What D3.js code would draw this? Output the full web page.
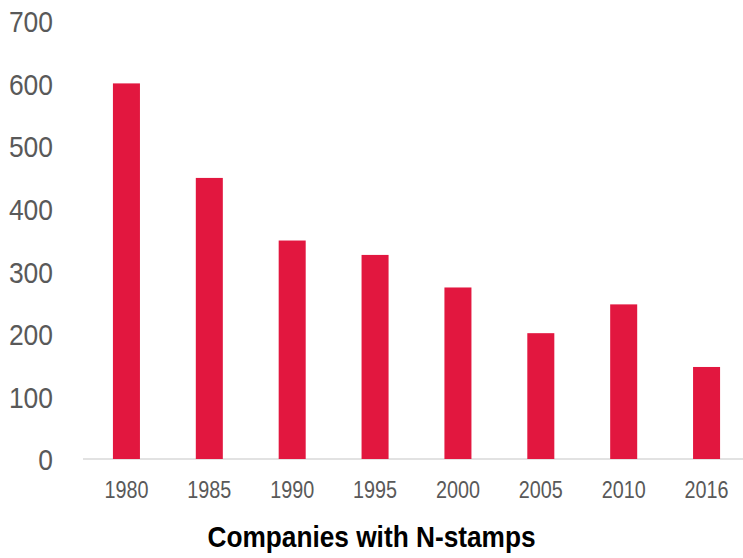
<!DOCTYPE html>
<html>
<head>
<meta charset="utf-8">
<script src="https://cdn.jsdelivr.net/npm/d3@7"></script>
<style>
  html, body { margin: 0; padding: 0; background: #fff; }
  svg { display: block; }
</style>
</head>
<body>
<svg id="chart" width="743" height="558"></svg>
<script>
const categories = ["1980", "1985", "1990", "1995", "2000", "2005", "2010", "2016"];
const values = [600, 449, 349, 326, 274, 201, 247, 147];
const yTicks = [0, 100, 200, 300, 400, 500, 600, 700];
const title = "Companies with N-stamps";

const svg = d3.select("#chart");
const x = d3.scaleBand().domain(categories).range([85, 748]).paddingInner(0.674).paddingOuter(0.337);
const y = d3.scaleLinear().domain([0, 700]).range([459, 20.8]);

// baseline
svg.append("line")
  .attr("x1", 83).attr("x2", 743)
  .attr("y1", y(0)).attr("y2", y(0))
  .attr("stroke", "#d9d9d9").attr("stroke-width", 1.5);

// bars
svg.append("g").selectAll("rect").data(values).join("rect")
  .attr("x", (d, i) => x(categories[i]))
  .attr("width", x.bandwidth())
  .attr("y", d => y(d))
  .attr("height", d => y(0) - y(d))
  .attr("fill", "#E2173F");

// y axis labels
const yAxis = d3.axisLeft(y).tickValues(yTicks).tickSize(0).tickPadding(0);
const gy = svg.append("g").attr("transform", "translate(53,0)").call(yAxis);
gy.select(".domain").remove();
gy.selectAll("text")
  .attr("font-family", "'Liberation Sans', Arial, sans-serif")
  .attr("font-size", 30)
  .attr("fill", "#595959")
  .attr("x", 0)
  .attr("dy", "0.36em")
  .attr("textLength", d => String(d).length * 14.7)
  .attr("lengthAdjust", "spacingAndGlyphs");

// x axis labels
const xAxis = d3.axisBottom(x).tickSize(0).tickPadding(0);
const gx = svg.append("g").attr("transform", "translate(0,498)").call(xAxis);
gx.select(".domain").remove();
gx.selectAll("text")
  .attr("font-family", "'Liberation Sans', Arial, sans-serif")
  .attr("font-size", 23)
  .attr("fill", "#595959")
  .attr("y", 0)
  .attr("dy", 0)
  .attr("textLength", 44)
  .attr("lengthAdjust", "spacingAndGlyphs");

// title
svg.append("text")
  .attr("x", 371.5).attr("y", 547)
  .attr("text-anchor", "middle")
  .attr("font-family", "'Liberation Sans', Arial, sans-serif")
  .attr("font-weight", "bold")
  .attr("font-size", 30)
  .attr("fill", "#000")
  .attr("textLength", 328)
  .attr("lengthAdjust", "spacingAndGlyphs")
  .text(title);
</script>
</body>
</html>
